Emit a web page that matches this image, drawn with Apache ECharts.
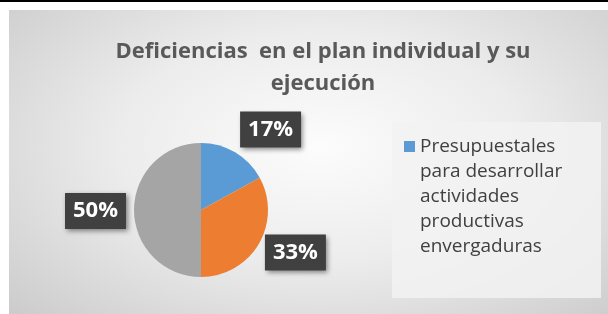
<!DOCTYPE html>
<html>
<head>
<meta charset="utf-8">
<script src="https://cdn.jsdelivr.net/npm/echarts@6/dist/echarts.min.js"></script>
<style>
  html, body { margin: 0; padding: 0; background: #fff; }
  .top_line { position: absolute; left: 0; top: 0; width: 608px; height: 2px; background: #000; }
  .frame { position: absolute; left: 9px; top: 10px; width: 599px; height: 304px;
    background: radial-gradient(ellipse 75% 85% at 52% 45%, #fcfcfc 0%, #ececec 45%, #c8c8c8 100%); }
  .legend_box { position: absolute; left: 392px; top: 122px; width: 209px; height: 176px; background: #f2f2f2; opacity: 0.85; }
  #chart { position: absolute; left: 0; top: 0; width: 608px; height: 314px; }
</style>
</head>
<body>
<div class="top_line"></div>
<div class="frame"></div>
<div class="legend_box"></div>
<div id="chart"></div>
<script>
// 数据
var categories = [
    'Presupuestales para desarrollar actividades productivas envergaduras',
    'Otras deficiencias',
    'Sin deficiencias'
];
var values = [17, 33, 50];
var colors = ['#5b9bd5', '#ed7d31', '#a5a5a5'];
// 标签偏移
var labelShift = [[51, -49], [63, 24], [-69, 1]];

var myChart = echarts.init(document.getElementById('chart'));

var option = {
    backgroundColor: 'transparent',
    title: {
        text: 'Deficiencias  en el plan individual y su\nejecución',
        left: 318,
        top: 31,
        textAlign: 'center',
        textStyle: {
            fontFamily: 'Open Sans',
            fontSize: 22,
            fontWeight: 'bold',
            color: '#595959',
            lineHeight: 32
        }
    },
    legend: {
        data: [categories[0]],
        orient: 'vertical',
        left: 404,
        top: 134,
        padding: 0,
        itemWidth: 11,
        itemHeight: 125,
        // 小方块放在第一行旁边
        icon: 'path://M0,7h11v11h-11z M0,0h0.01v0.01h-0.01z M0,125h0.01v-0.01h-0.01z',
        formatter: function (name) {
            return name.split(' ').join('\n').replace('para\ndesarrollar', 'para desarrollar');
        },
        textStyle: {
            fontFamily: 'Open Sans',
            fontSize: 19,
            color: '#404040',
            lineHeight: 25
        }
    },
    series: [{
        type: 'pie',
        center: [201, 210],
        radius: 67,
        startAngle: 90,
        clockwise: true,
        color: colors,
        data: categories.map(function (name, i) {
            return { name: name, value: values[i] };
        }),
        itemStyle: { borderWidth: 0 },
        label: {
            show: true,
            position: 'inside',
            formatter: '{c}%',
            color: '#fff',
            fontFamily: 'Open Sans',
            fontWeight: 'bold',
            fontSize: 22,
            backgroundColor: '#404040',
            padding: [7, 8, 7, 8],
            shadowColor: 'rgba(0,0,0,0.45)',
            shadowBlur: 5,
            shadowOffsetX: 2,
            shadowOffsetY: 2
        },
        labelLine: { show: false },
        labelLayout: function (params) {
            var s = labelShift[params.dataIndex];
            return { dx: s[0], dy: s[1] };
        },
        emphasis: { disabled: true }
    }]
};

myChart.setOption(option);
</script>
</body>
</html>
